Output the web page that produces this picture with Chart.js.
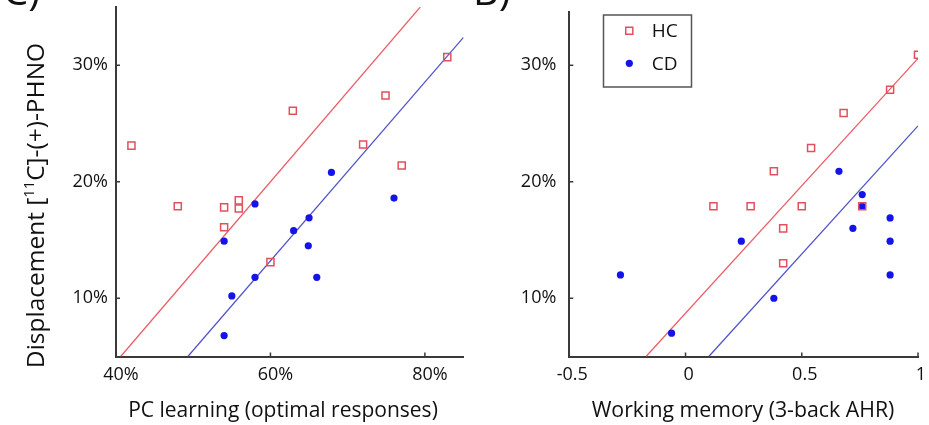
<!DOCTYPE html>
<html><head><meta charset="utf-8">
<script src="https://cdn.jsdelivr.net/npm/chart.js@4"></script>
<style>
html,body{margin:0;padding:0;background:#fff;width:929px;height:425px;overflow:hidden;}
#c1{position:absolute;left:0;top:0;}
#c2{position:absolute;left:470px;top:0;}
</style></head><body>
<canvas id="c1" width="470" height="425"></canvas>
<canvas id="c2" width="459" height="425"></canvas>
<script>
// ---- data ----
const pcTicks = [40, 60, 80];
const pcTickLabels = ['40%', '60%', '80%'];
const wmTicks = [-0.5, 0, 0.5, 1];
const wmTickLabels = ['-0.5', '0', '0.5', '1'];
const dispTicks = [10, 20, 30];
const dispTickLabels = ['10%', '20%', '30%'];

const seriesNames = ['HC', 'CD'];

// Panel 1: PC learning (%) vs displacement (%)
const hcPC     = [42.0, 48.0, 54.0, 55.9, 55.9, 54.0, 60.0, 62.9, 72.0, 74.9, 77.0, 82.9];
const hcPCDisp = [23.1, 17.9, 17.8, 18.4, 17.7, 16.1, 13.1, 26.1, 23.2, 27.4, 21.4, 30.7];
const cdPC     = [58.0, 67.9, 76.0, 65.0, 54.0, 63.0, 64.9, 66.0, 58.0, 55.0, 54.0];
const cdPCDisp = [18.1, 20.8, 18.6, 16.9, 14.9, 15.8, 14.5, 11.8, 11.8, 10.2, 6.8];
const hcPCFitX = [40.6, 79.4], hcPCFitY = [5, 35];
const cdPCFitX = [49.3, 85.0], cdPCFitY = [5, 32.4];

// Panel 2: working memory (3-back AHR) vs displacement (%)
const hcWM     = [1.00, 0.88, 0.68, 0.54, 0.38, 0.12, 0.28, 0.50, 0.76, 0.42, 0.42];
const hcWMDisp = [30.9, 27.9, 25.9, 22.9, 20.9, 17.9, 17.9, 17.9, 17.9, 16.0, 13.0];
const cdWM     = [0.66, 0.76, 0.76, 0.88, 0.72, 0.88, 0.88, 0.24, 0.38, -0.28, -0.06];
const cdWMDisp = [20.9, 18.9, 17.9, 16.9, 16.0, 14.9, 12.0, 14.9, 10.0, 12.0, 7.0];
const hcWMFitX = [-0.17, 1.0], hcWMFitY = [5, 30.6];
const cdWMFitX = [0.10, 1.0], cdWMFitY = [5, 24.8];

// ---- styles ----
const RED = '#e2505e', BLUE = '#1414e8', RED_LINE = '#ee5a64', BLUE_LINE = '#5050cc';
const AXIS = '#3a3a3a', TXT = '#111';
const FONT = '"Open Sans"';
Chart.defaults.font.family = FONT;
Chart.defaults.color = TXT;

function pts(xs, ys) { return xs.map((x, i) => ({ x: x, y: ys[i] })); }

const hcStyle = { pointStyle: 'rect', pointRadius: 5, pointBorderWidth: 1.5, pointBorderColor: RED, pointBackgroundColor: 'rgba(255,255,255,0)', showLine: false, order: 1 };
const cdStyle = { pointStyle: 'circle', pointRadius: 3.6, pointBorderWidth: 0, pointBorderColor: BLUE, pointBackgroundColor: BLUE, showLine: false, order: 2 };

function drawRich(ctx, parts, size) {
  let w = 0;
  parts.forEach(p => { ctx.font = `${p.sup ? size * 0.6 : size}px ${FONT}`; w += ctx.measureText(p.t).width; });
  let cx = -w / 2;
  parts.forEach(p => {
    ctx.font = `${p.sup ? size * 0.6 : size}px ${FONT}`;
    ctx.fillText(p.t, cx, p.sup ? -size * 0.4 : 0);
    cx += ctx.measureText(p.t).width;
  });
}

const decor = {
  id: 'decor',
  afterDraw(chart, args, o) {
    const { ctx, chartArea: a } = chart;
    const xs = chart.scales.x, ys = chart.scales.y;
    ctx.save();
    // inward tick marks
    ctx.strokeStyle = AXIS; ctx.lineWidth = 1.5;
    xs.ticks.forEach(t => {
      const px = xs.getPixelForValue(t.value);
      ctx.beginPath(); ctx.moveTo(px, a.bottom); ctx.lineTo(px, a.bottom - 4); ctx.stroke();
    });
    ys.ticks.forEach(t => {
      const py = ys.getPixelForValue(t.value);
      ctx.beginPath(); ctx.moveTo(a.left, py); ctx.lineTo(a.left + 4, py); ctx.stroke();
    });
    ctx.fillStyle = TXT;
    ctx.textBaseline = 'alphabetic';
    ctx.textAlign = 'left';
    // x title
    ctx.save(); ctx.translate(o.xTitlePos[0], o.xTitlePos[1]);
    drawRich(ctx, [{ t: o.xTitle }], o.xTitleSize);
    ctx.restore();
    // y title
    if (o.yTitle) {
      ctx.save(); ctx.translate(o.yTitlePos[0], o.yTitlePos[1]); ctx.rotate(-Math.PI / 2);
      drawRich(ctx, o.yTitle, o.yTitleSize);
      ctx.restore();
    }
    // panel letter fragment (cut off at top)
    if (o.panel) {
      ctx.font = `40px ${FONT}`;
      ctx.fillText(o.panel.t, o.panel.x, o.panel.y);
    }
    // legend
    if (o.legend) {
      const L = o.legend;
      ctx.strokeStyle = '#555'; ctx.lineWidth = 1.5;
      ctx.strokeRect(L.box[0], L.box[1], L.box[2], L.box[3]);
      chart.data.datasets.filter(d => d.label).forEach((d, i) => {
        const yy = L.rows[i];
        ctx.fillStyle = d.pointBackgroundColor; ctx.strokeStyle = d.pointBorderColor;
        ctx.lineWidth = d.pointBorderWidth;
        Chart.helpers.drawPoint(ctx, { pointStyle: d.pointStyle, radius: d.pointRadius, borderWidth: d.pointBorderWidth }, L.markerX, yy);
        ctx.fillStyle = TXT; ctx.font = `${L.size}px ${FONT}`; ctx.textAlign = 'left'; ctx.textBaseline = 'middle';
        ctx.fillText(d.label, L.textX, yy + 1);
      });
    }
    ctx.restore();
  }
};

function makeChart(id, cfg) {
  return new Chart(document.getElementById(id), {
    type: 'scatter',
    data: {
      datasets: [
        Object.assign({ label: seriesNames[0], data: cfg.hc }, hcStyle),
        Object.assign({ label: seriesNames[1], data: cfg.cd }, cdStyle),
        { data: cfg.hcFit, showLine: true, pointRadius: 0, borderColor: RED_LINE, borderWidth: 1.2, order: 3 },
        { data: cfg.cdFit, showLine: true, pointRadius: 0, borderColor: BLUE_LINE, borderWidth: 1.2, order: 3 }
      ]
    },
    options: {
      responsive: false, animation: false, events: [],
      layout: { padding: cfg.padding },
      plugins: { legend: { display: false }, tooltip: { enabled: false }, decor: cfg.decor },
      scales: {
        x: {
          type: 'linear', min: cfg.xMin, max: cfg.xMax,
          grid: { display: false, drawTicks: false },
          border: { display: true, color: AXIS, width: 2 },
          afterBuildTicks: s => { s.ticks = cfg.xTicks.map(v => ({ value: v })); },
          afterFit: s => { s.height = cfg.xHeight; s.paddingLeft = 0; s.paddingRight = 0; },
          ticks: { font: { size: 18 }, color: TXT, padding: 8, labelOffset: cfg.xLabelOffset, maxRotation: 0, autoSkip: false,
                   callback: (v, i) => cfg.xLabels[i] }
        },
        y: {
          type: 'linear', min: cfg.yMin, max: cfg.yMax,
          grid: { display: false, drawTicks: false },
          border: { display: true, color: AXIS, width: 2 },
          afterBuildTicks: s => { s.ticks = dispTicks.map(v => ({ value: v })); },
          afterFit: s => { s.width = cfg.yWidth; s.paddingTop = 0; s.paddingBottom = 0; },
          ticks: { font: { size: 18 }, color: TXT, padding: cfg.yPad, callback: (v, i) => dispTickLabels[i] }
        }
      }
    },
    plugins: [decor]
  });
}

makeChart('c1', {
  hc: pts(hcPC, hcPCDisp), cd: pts(cdPC, cdPCDisp),
  hcFit: pts(hcPCFitX, hcPCFitY), cdFit: pts(cdPCFitX, cdPCFitY),
  xMin: 40, xMax: 85, yMin: 5, yMax: 35,
  xTicks: pcTicks, xLabels: pcTickLabels, xLabelOffset: 5,
  padding: { top: 7, right: 5, left: 0, bottom: 0 },
  xHeight: 68.5, yWidth: 116, yPad: 8,
  decor: {
    xTitle: 'PC learning (optimal responses)', xTitlePos: [283, 417], xTitleSize: 21,
    yTitle: [{ t: 'Displacement [' }, { t: '11', sup: true }, { t: 'C]-(+)-PHNO' }],
    yTitlePos: [44, 205.5], yTitleSize: 24.5,
    panel: { t: 'C)', x: 3, y: 5 }
  }
});

makeChart('c2', {
  hc: pts(hcWM, hcWMDisp), cd: pts(cdWM, cdWMDisp),
  hcFit: pts(hcWMFitX, hcWMFitY), cdFit: pts(cdWMFitX, cdWMFitY),
  xMin: -0.5, xMax: 1, yMin: 5, yMax: 34.6,
  xTicks: wmTicks, xLabels: wmTickLabels, xLabelOffset: 3,
  padding: { top: 11.7, right: 11, left: 0, bottom: 0 },
  xHeight: 68.5, yWidth: 99.3, yPad: 13,
  decor: {
    xTitle: 'Working memory (3-back AHR)', xTitlePos: [273, 417], xTitleSize: 21.3,
    panel: { t: 'B)', x: 3, y: 5 },
    legend: { box: [133.5, 15, 88, 72], rows: [30.7, 63.3], markerX: 159.3, textX: 181.7, size: 19 }
  }
});
</script>
</body></html>
